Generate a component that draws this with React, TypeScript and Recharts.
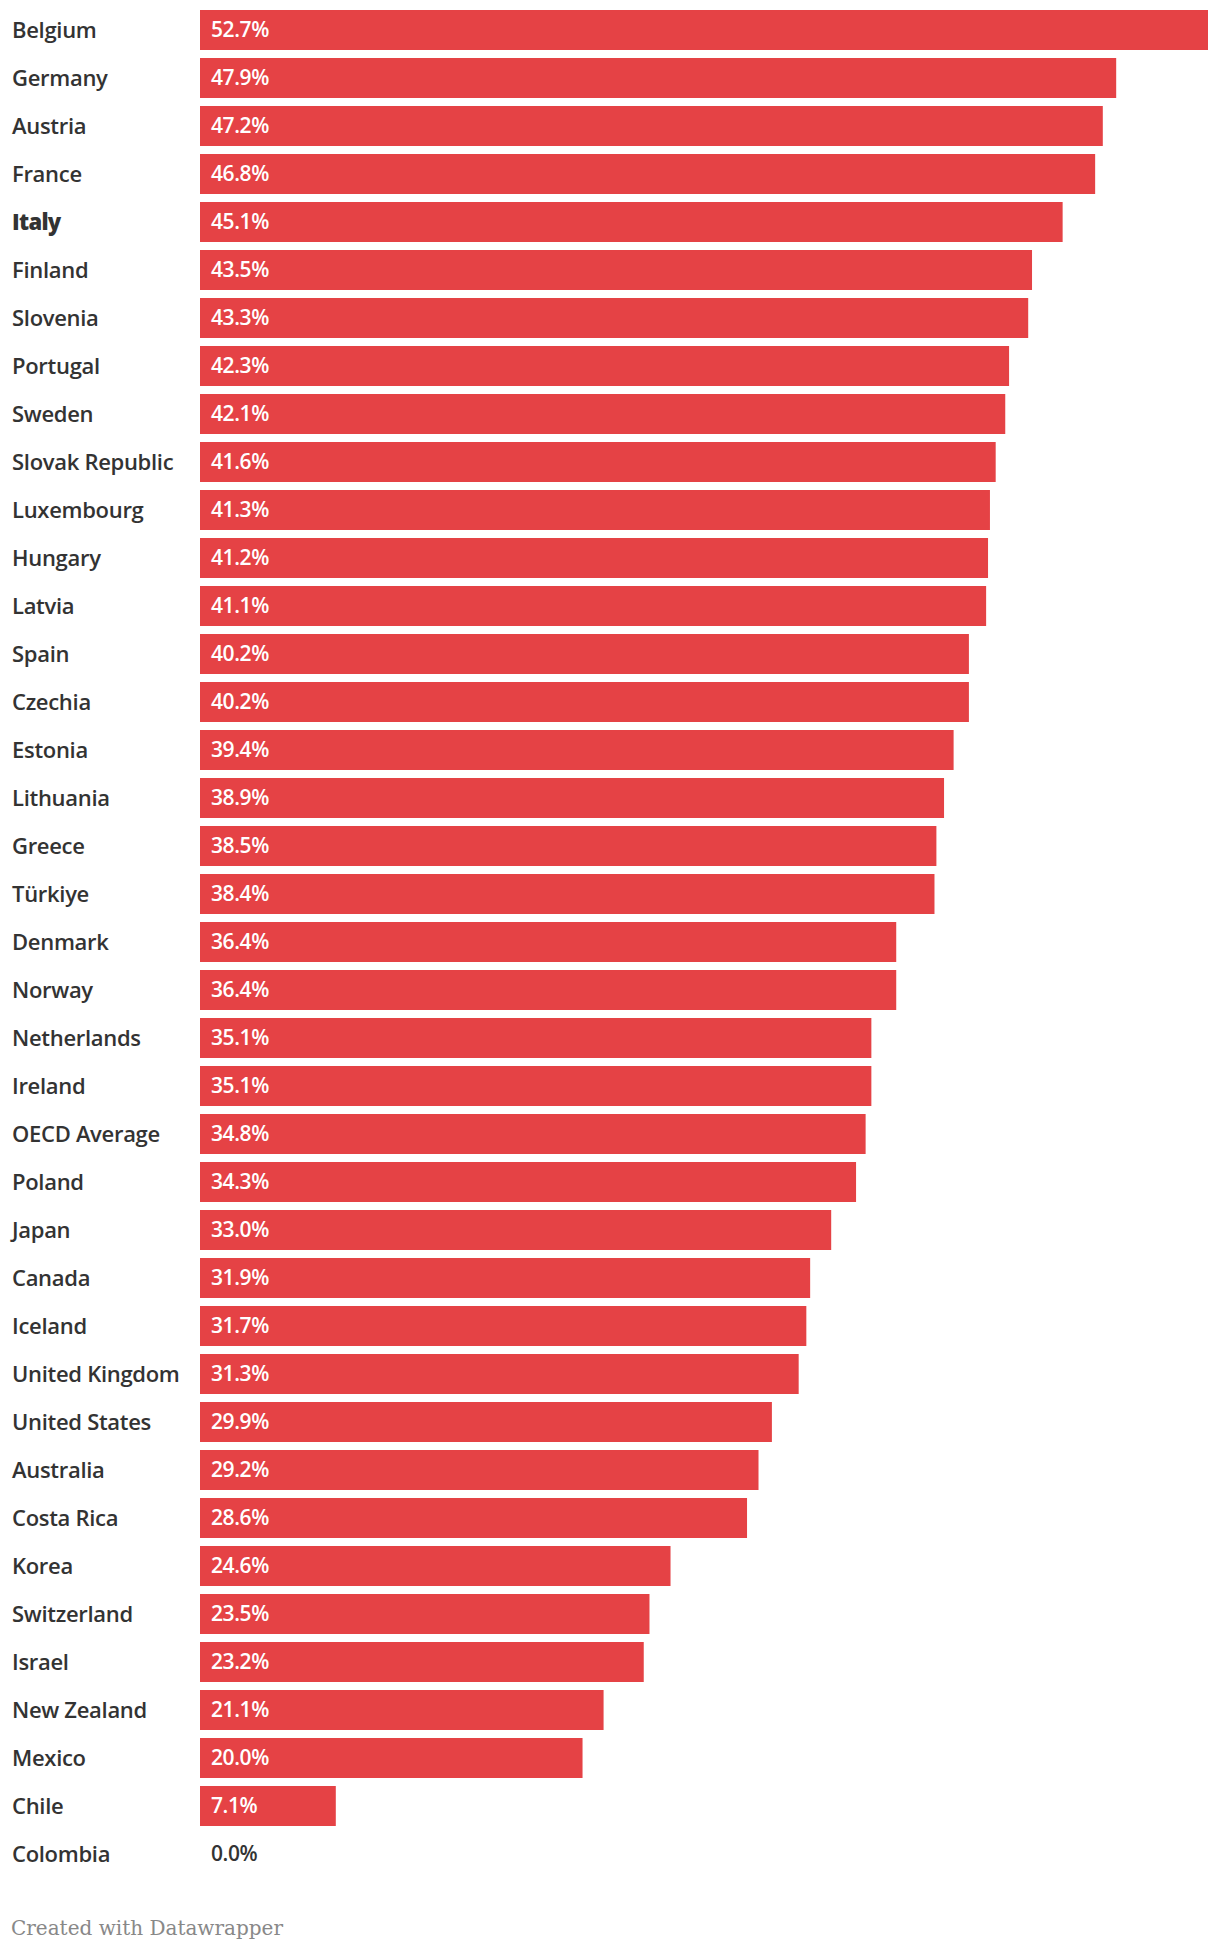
import React from 'react';
import { BarChart, Bar, XAxis, YAxis, LabelList } from 'recharts';

const countries = [
  'Belgium', 'Germany', 'Austria', 'France', 'Italy', 'Finland', 'Slovenia', 'Portugal',
  'Sweden', 'Slovak Republic', 'Luxembourg', 'Hungary', 'Latvia', 'Spain', 'Czechia',
  'Estonia', 'Lithuania', 'Greece', 'Türkiye', 'Denmark', 'Norway', 'Netherlands',
  'Ireland', 'OECD Average', 'Poland', 'Japan', 'Canada', 'Iceland', 'United Kingdom',
  'United States', 'Australia', 'Costa Rica', 'Korea', 'Switzerland', 'Israel',
  'New Zealand', 'Mexico', 'Chile', 'Colombia',
];

const shares = [
  52.7, 47.9, 47.2, 46.8, 45.1, 43.5, 43.3, 42.3, 42.1, 41.6, 41.3, 41.2, 41.1, 40.2,
  40.2, 39.4, 38.9, 38.5, 38.4, 36.4, 36.4, 35.1, 35.1, 34.8, 34.3, 33.0, 31.9, 31.7,
  31.3, 29.9, 29.2, 28.6, 24.6, 23.5, 23.2, 21.1, 20.0, 7.1, 0.0,
];

const highlighted = ['Italy'];

const data = countries.map((country, i) => ({ country, value: shares[i] }));

const BAR_COLOR = '#e54245';
const TEXT_COLOR = '#333333';
const FONT = '"Open Sans", Roboto, sans-serif';

const fmt = (v: number) => `${v.toFixed(1)}%`;

const CountryTick = (props: any) => {
  const { y, payload } = props;
  const bold = highlighted.includes(payload.value);
  const v = shares[countries.indexOf(payload.value)];
  return (
    <g>
      <text
        x={12}
        y={y}
        dy="0.35em"
        textAnchor="start"
        fill={TEXT_COLOR}
        fontFamily={FONT}
        fontSize={22}
        fontWeight={bold ? 800 : 600}
        letterSpacing={bold ? -0.7 : -0.3}
      >
        {payload.value}
      </text>
      {/* zero-width bars get no label from LabelList, so draw it here */}
      {v === 0 && (
        <text
          x={211}
          y={y}
          dy="0.35em"
          textAnchor="start"
          fill={TEXT_COLOR}
          fontFamily={FONT}
          fontSize={21}
          fontWeight={600}
          letterSpacing={-0.4}
        >
          {fmt(v)}
        </text>
      )}
    </g>
  );
};

const ValueLabel = (props: any) => {
  const { x, y, height, value } = props;
  if (!value) return null;
  return (
    <text
      x={x + 11}
      y={y + height / 2}
      dy="0.35em"
      textAnchor="start"
      fill="#ffffff"
      fontFamily={FONT}
      fontSize={21}
      fontWeight={600}
      letterSpacing={-0.4}
    >
      {fmt(value)}
    </text>
  );
};

const App: React.FC = () => {
  return (
    <div style={{ position: 'relative', width: 1220, height: 1952, background: '#fff' }}>
      <style>{'body { margin: 0; }'}</style>
      <BarChart
        width={1220}
        height={1880}
        data={data}
        layout="vertical"
        margin={{ top: 6, right: 12, bottom: 2, left: 0 }}
        barCategoryGap={0}
      >
        <XAxis type="number" domain={[0, 52.7]} hide />
        <YAxis
          type="category"
          dataKey="country"
          width={200}
          axisLine={false}
          tickLine={false}
          interval={0}
          tick={<CountryTick />}
        />
        <Bar dataKey="value" fill={BAR_COLOR} barSize={40} isAnimationActive={false}>
          <LabelList dataKey="value" content={<ValueLabel />} />
        </Bar>
      </BarChart>
      <div
        style={{
          position: 'absolute',
          left: 11,
          top: 1916,
          fontFamily: '"DejaVu Serif", "Liberation Serif", serif',
          fontSize: 20,
          color: '#888888',
        }}
      >
        Created with Datawrapper
      </div>
    </div>
  );
};

export default App;
